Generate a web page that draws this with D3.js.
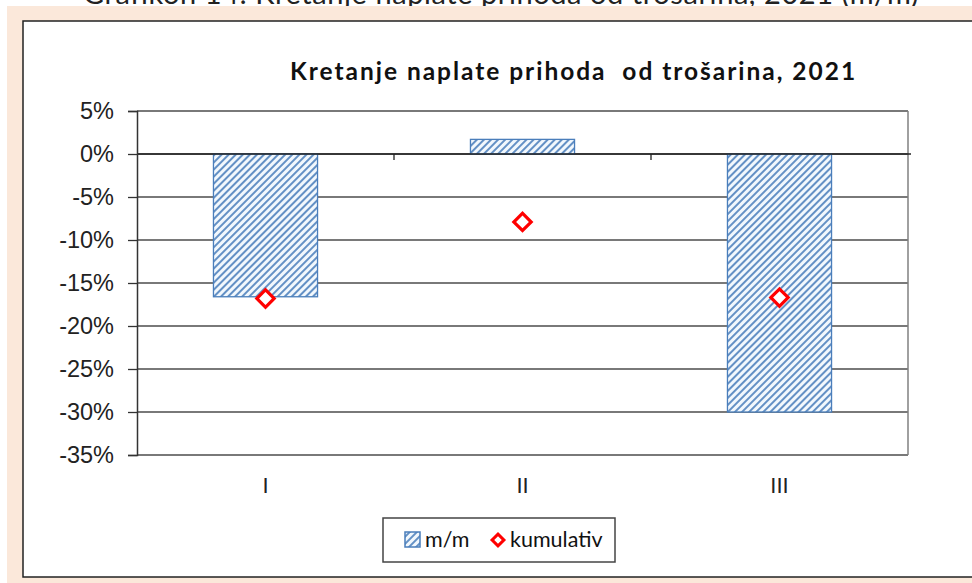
<!DOCTYPE html>
<html><head><meta charset="utf-8">
<script src="https://cdn.jsdelivr.net/npm/d3@7"></script>
<style>body{margin:0;background:#fff;}svg{display:block;}</style>
</head><body>
<script>
const categories = ["I", "II", "III"];
const mm = [-16.6, 1.7, -30.0];
const kumulativ = [-16.8, -7.9, -16.7];
const yTicks = [5, 0, -5, -10, -15, -20, -25, -30, -35];
const chartTitle = "Kretanje naplate prihoda  od trošarina, 2021";
const pageTitle = "Grafikon 14: Kretanje naplate prihoda od trošarina, 2021 (m/m)";
const legendLabels = ["m/m", "kumulativ"];

const W = 972, H = 583;
const svg = d3.select("body").append("svg").attr("width", W).attr("height", H);

function fitWidth(sel, target) {
  const w = sel.node().getComputedTextLength();
  const n = sel.text().length;
  if (n > 1) sel.attr("letter-spacing", ((target - w) / (n - 1)).toFixed(2));
}

// page heading (cut off at top, as in the reference)
const ph = svg.append("text").attr("x", 83).attr("y", 4)
  .attr("font-family", "Lato, sans-serif").attr("font-size", 29).attr("fill", "#222")
  .style("white-space", "pre").text(pageTitle);
fitWidth(ph, 835);

// peach frame
svg.append("rect").attr("x", 7).attr("y", 6).attr("width", W - 7).attr("height", H - 6).attr("fill", "#fbe8da");
svg.append("rect").attr("x", 23).attr("y", 21).attr("width", W).attr("height", 556)
  .attr("fill", "#fff").attr("stroke", "#222").attr("stroke-width", 1.5);

const defs = svg.append("defs");
const pat = defs.append("pattern").attr("id", "hatch").attr("patternUnits", "userSpaceOnUse")
  .attr("width", 5).attr("height", 5).attr("patternTransform", "rotate(45)");
pat.append("rect").attr("width", 5).attr("height", 5).attr("fill", "#f2f8fd");
pat.append("line").attr("x1", 1).attr("y1", 0).attr("x2", 1).attr("y2", 5)
  .attr("stroke", "#4a7ebb").attr("stroke-width", 1.7);

const plot = {left: 137, right: 908, top: 111, bottom: 455};
const x = d3.scaleBand().domain(categories).range([plot.left, plot.right]).paddingInner(0.595).paddingOuter(0.2975);
const y = d3.scaleLinear().domain([-35, 5]).range([plot.bottom, plot.top]);

// gridlines
svg.append("g").selectAll("line").data(yTicks).join("line")
  .attr("x1", plot.left).attr("x2", plot.right)
  .attr("y1", d => y(d)).attr("y2", d => y(d))
  .attr("stroke", "#4d4d4d").attr("stroke-width", 1.3);
// right border
svg.append("line").attr("x1", plot.right).attr("x2", plot.right).attr("y1", plot.top).attr("y2", plot.bottom)
  .attr("stroke", "#808080").attr("stroke-width", 1.5);

// bars
svg.append("g").selectAll("rect").data(categories).join("rect")
  .attr("x", d => x(d)).attr("width", x.bandwidth())
  .attr("y", (d, i) => y(Math.max(0, mm[i])))
  .attr("height", (d, i) => Math.abs(y(mm[i]) - y(0)))
  .attr("fill", "url(#hatch)").attr("stroke", "#4a7ebb").attr("stroke-width", 1.3);

// zero axis
svg.append("line").attr("x1", plot.left).attr("x2", plot.right + 3).attr("y1", y(0)).attr("y2", y(0))
  .attr("stroke", "#222").attr("stroke-width", 1.3);
svg.append("g").selectAll("line").data(d3.range(1, categories.length)).join("line")
  .attr("x1", i => plot.left + i * (plot.right - plot.left) / categories.length)
  .attr("x2", i => plot.left + i * (plot.right - plot.left) / categories.length)
  .attr("y1", y(0)).attr("y2", y(0) + 6).attr("stroke", "#222").attr("stroke-width", 1.3);

// y axis
const yAxis = d3.axisLeft(y).tickValues(yTicks).tickSize(9).tickPadding(14).tickFormat(d => d + "%");
const ga = svg.append("g").attr("transform", `translate(${plot.left},0)`).call(yAxis);
ga.select(".domain").attr("stroke", "#333").attr("stroke-width", 1.5);
ga.selectAll(".tick line").attr("stroke", "#333").attr("stroke-width", 1.3);
ga.selectAll(".tick text").attr("font-family", "'Liberation Sans', Arial, sans-serif").attr("font-size", 23.5).attr("fill", "#222");

// category labels
svg.append("g").selectAll("text").data(categories).join("text")
  .attr("x", d => x(d) + x.bandwidth() / 2).attr("y", 493).attr("text-anchor", "middle")
  .attr("font-family", "'Liberation Sans', Arial, sans-serif").attr("font-size", 22).attr("fill", "#222")
  .text(d => d);

// markers
const diamond = d3.symbol().type(d3.symbolSquare).size(150);
svg.append("g").selectAll("path").data(categories).join("path")
  .attr("d", diamond())
  .attr("transform", (d, i) => `translate(${x(d) + x.bandwidth() / 2},${y(kumulativ[i])}) rotate(45)`)
  .attr("fill", "#fff").attr("stroke", "#ff0000").attr("stroke-width", 3.2);

// chart title
const ct = svg.append("text").attr("x", 290).attr("y", 80)
  .attr("font-family", "Lato, sans-serif").attr("font-weight", "bold").attr("font-size", 24.5).attr("fill", "#111")
  .style("white-space", "pre").text(chartTitle);
fitWidth(ct, 565);

// legend
const lg = svg.append("g");
lg.append("rect").attr("x", 383).attr("y", 518).attr("width", 232).attr("height", 44)
  .attr("fill", "#fff").attr("stroke", "#444").attr("stroke-width", 1.5);
lg.append("rect").attr("x", 405).attr("y", 532).attr("width", 15).attr("height", 15)
  .attr("fill", "url(#hatch)").attr("stroke", "#4a7ebb").attr("stroke-width", 1.5);
lg.append("text").attr("x", 425).attr("y", 547).attr("font-family", "Lato, sans-serif").attr("font-size", 21.5).attr("fill", "#111").text(legendLabels[0]);
lg.append("path").attr("d", d3.symbol().type(d3.symbolSquare).size(70)())
  .attr("transform", "translate(498,540) rotate(45)").attr("fill", "#fff").attr("stroke", "#ff0000").attr("stroke-width", 3);
lg.append("text").attr("x", 510).attr("y", 547).attr("font-family", "Lato, sans-serif").attr("font-size", 21.5).attr("fill", "#111").text(legendLabels[1]);
</script>
</body></html>
